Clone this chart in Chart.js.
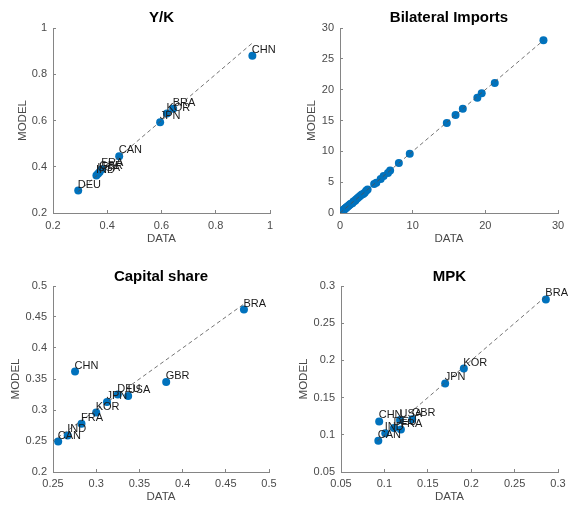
<!DOCTYPE html>
<html>
<head>
<meta charset="utf-8">
<script src="https://cdn.jsdelivr.net/npm/chart.js@4.4.1/dist/chart.umd.min.js"></script>
<style>
    html, body { margin: 0; padding: 0; background: #fff; }
    #wrap { position: relative; width: 568px; height: 508px; }
    .panel { position: absolute; width: 284px; height: 254px; }
</style>
</head>
<body>
<div id="wrap">
    <div class="panel" style="left:0;top:0"><canvas id="c1" width="284" height="254"></canvas></div>
    <div class="panel" style="left:284px;top:0"><canvas id="c2" width="284" height="254"></canvas></div>
    <div class="panel" style="left:0;top:254px"><canvas id="c3" width="284" height="254"></canvas></div>
    <div class="panel" style="left:284px;top:254px"><canvas id="c4" width="284" height="254"></canvas></div>
</div>
<script>
// Datos: Y/K
const ykNames = ['CHN', 'BRA', 'KOR', 'JPN', 'CAN', 'FRA', 'GBR', 'USA', 'IND', 'DEU'];
const ykData  = [0.935, 0.643, 0.620, 0.595, 0.444, 0.380, 0.372, 0.366, 0.360, 0.293];
const ykModel = [0.880, 0.651, 0.630, 0.592, 0.445, 0.389, 0.377, 0.370, 0.362, 0.297];
const ykTicks = [0.2, 0.4, 0.6, 0.8, 1];

// Datos: Bilateral Imports
const biData  = [28.0, 21.3, 19.5, 18.9, 16.9, 15.9, 14.7, 9.6, 8.1, 6.9, 6.6, 6.0, 5.6, 5.0, 4.7,
    3.8, 3.6, 3.4, 3.2, 3.0, 2.8, 2.6, 2.4, 2.2, 2.1, 1.9, 1.8, 1.7, 1.5, 1.4, 1.3, 1.2, 1.1, 1.0,
    0.92, 0.85, 0.78, 0.7, 0.64, 0.58, 0.52, 0.47, 0.42, 0.37, 0.33, 0.29, 0.25, 0.22, 0.19, 0.16,
    0.13, 0.11, 0.09, 0.07, 0.05, 0.04, 0.03, 0.02, 0.01, 0.005];
const biModel = [28.0, 21.1, 19.4, 18.7, 16.9, 15.9, 14.6, 9.6, 8.1, 6.9, 6.5, 6.0, 5.5, 4.9, 4.7,
    3.8, 3.6, 3.3, 3.1, 3.0, 2.8, 2.6, 2.4, 2.2, 2.0, 1.9, 1.8, 1.6, 1.5, 1.4, 1.3, 1.2, 1.1, 1.0,
    0.93, 0.84, 0.78, 0.71, 0.63, 0.58, 0.52, 0.46, 0.42, 0.37, 0.33, 0.28, 0.25, 0.22, 0.19, 0.16,
    0.13, 0.11, 0.09, 0.07, 0.05, 0.04, 0.03, 0.02, 0.01, 0.005];
const biTicksX = [0, 10, 20, 30];
const biTicksY = [0, 5, 10, 15, 20, 25, 30];

// Datos: Capital share
const csNames = ['BRA', 'GBR', 'CHN', 'USA', 'DEU', 'JPN', 'KOR', 'FRA', 'IND', 'CAN'];
const csData  = [0.471, 0.381, 0.2755, 0.337, 0.325, 0.3125, 0.300, 0.283, 0.267, 0.256];
const csModel = [0.462, 0.345, 0.362, 0.3225, 0.325, 0.313, 0.296, 0.278, 0.259, 0.249];
const csTicksX = [0.25, 0.3, 0.35, 0.4, 0.45, 0.5];
const csTicksY = [0.2, 0.25, 0.3, 0.35, 0.4, 0.45, 0.5];

// Datos: MPK
const mpkNames = ['BRA', 'KOR', 'JPN', 'CHN', 'GBR', 'USA', 'FRA', 'DEU', 'IND', 'CAN'];
const mpkData  = [0.286, 0.1915, 0.170, 0.094, 0.132, 0.118, 0.119, 0.111, 0.101, 0.093];
const mpkModel = [0.282, 0.189, 0.169, 0.118, 0.121, 0.120, 0.107, 0.109, 0.102, 0.092];
const mpkTicks = [0.05, 0.1, 0.15, 0.2, 0.25, 0.3];

const FONT = '"Liberation Sans", Arial, Helvetica, sans-serif';
const BLUE = '#0072BD';
const GRAY = '#4a4a4a';
const AXIS = '#858585';

// Etiquetas de pa√≠ses junto a cada punto
const countryLabels = {
    id: 'countryLabels',
    afterDatasetsDraw(chart, args, opts) {
        if (!opts.names) return;
        const meta = chart.getDatasetMeta(1);
        const ctx = chart.ctx;
        ctx.save();
        ctx.font = '11px ' + FONT;
        ctx.fillStyle = '#1a1a1a';
        ctx.textBaseline = 'middle';
        ctx.textAlign = 'left';
        meta.data.forEach((pt, i) => {
            ctx.fillText(opts.names[i], pt.x - 0.5, pt.y - 6);
        });
        ctx.restore();
    }
};

function makePanel(id, title, names, xs, ys, ticksX, ticksY, box) {
    const lo = Math.min(...xs, ...ys);
    const hi = Math.max(...xs, ...ys);
    const pts = xs.map((x, i) => ({ x: x, y: ys[i] }));

    const fmt = v => String(+(+v).toFixed(3));
    // marcas hacia dentro, como en MATLAB
    const gridOpts = { display: true, drawOnChartArea: false, drawTicks: true, tickLength: -3, color: AXIS, lineWidth: 1 };

    new Chart(document.getElementById(id), {
        type: 'scatter',
        plugins: [countryLabels],
        data: {
            datasets: [
                {
                    // l√≠nea de 45 grados
                    type: 'line',
                    data: [{ x: lo, y: lo }, { x: hi, y: hi }],
                    borderColor: '#505050',
                    borderWidth: 0.8,
                    borderDash: [4, 3],
                    pointRadius: 0,
                    fill: false
                },
                {
                    data: pts,
                    pointRadius: 4,
                    pointBackgroundColor: BLUE,
                    pointBorderWidth: 0,
                    pointHoverRadius: 4
                }
            ]
        },
        options: {
            responsive: false,
            animation: false,
            events: [],
            layout: { padding: { left: 0, right: 284 - box.right, top: 0, bottom: 0 } },
            plugins: {
                legend: { display: false },
                tooltip: { enabled: false },
                title: {
                    display: true,
                    text: title,
                    fullSize: false,
                    color: '#000',
                    font: { family: FONT, size: 15, weight: 'bold', lineHeight: 1.2 },
                    padding: { top: box.titleY - 9, bottom: box.top - box.titleY - 9 }
                },
                countryLabels: { names: names }
            },
            scales: {
                x: {
                    type: 'linear',
                    min: ticksX[0],
                    max: ticksX[ticksX.length - 1],
                    afterBuildTicks: s => { s.ticks = ticksX.map(v => ({ value: v })); },
                    afterFit: s => {
                        s.height = 254 - box.bottom;
                        s.paddingLeft = 0;
                        s.paddingRight = 0;
                    },
                    grid: gridOpts,
                    border: { display: true, color: AXIS, width: 1 },
                    ticks: { font: { family: FONT, size: 11 }, color: GRAY, padding: box.xPad + 3, callback: fmt, maxRotation: 0 },
                    title: {
                        display: true, text: 'DATA', color: GRAY,
                        font: { family: FONT, size: 11.5, lineHeight: 1.2 },
                        padding: { top: 0, bottom: 254 - box.xTitleY - 6.9 }
                    }
                },
                y: {
                    type: 'linear',
                    min: ticksY[0],
                    max: ticksY[ticksY.length - 1],
                    afterBuildTicks: s => { s.ticks = ticksY.map(v => ({ value: v })); },
                    afterFit: s => { s.width = box.left; },
                    grid: gridOpts,
                    border: { display: true, color: AXIS, width: 1 },
                    ticks: { font: { family: FONT, size: 11 }, color: GRAY, padding: 9, callback: fmt },
                    title: {
                        display: true, text: 'MODEL', color: GRAY,
                        font: { family: FONT, size: 11.5, lineHeight: 1.2 },
                        padding: { top: box.yTitleX - 6.9, bottom: 0 }
                    }
                }
            }
        }
    });
}

makePanel('c1', 'Y/K', ykNames, ykData, ykModel, ykTicks, ykTicks,
    { left: 53, right: 270, top: 28, bottom: 213, titleY: 18, yTitleX: 22.7, xPad: 6, xTitleY: 239 });
makePanel('c2', 'Bilateral Imports', null, biData, biModel, biTicksX, biTicksY,
    { left: 56, right: 274, top: 28, bottom: 213, titleY: 18, yTitleX: 28.3, xPad: 6, xTitleY: 239 });
makePanel('c3', 'Capital share', csNames, csData, csModel, csTicksX, csTicksY,
    { left: 53, right: 269, top: 32, bottom: 218, titleY: 22.5, yTitleX: 16, xPad: 5, xTitleY: 243.3 });
makePanel('c4', 'MPK', mpkNames, mpkData, mpkModel, mpkTicks, mpkTicks,
    { left: 57, right: 274, top: 32, bottom: 218, titleY: 22.5, yTitleX: 20, xPad: 5, xTitleY: 243.3 });
</script>
</body>
</html>
